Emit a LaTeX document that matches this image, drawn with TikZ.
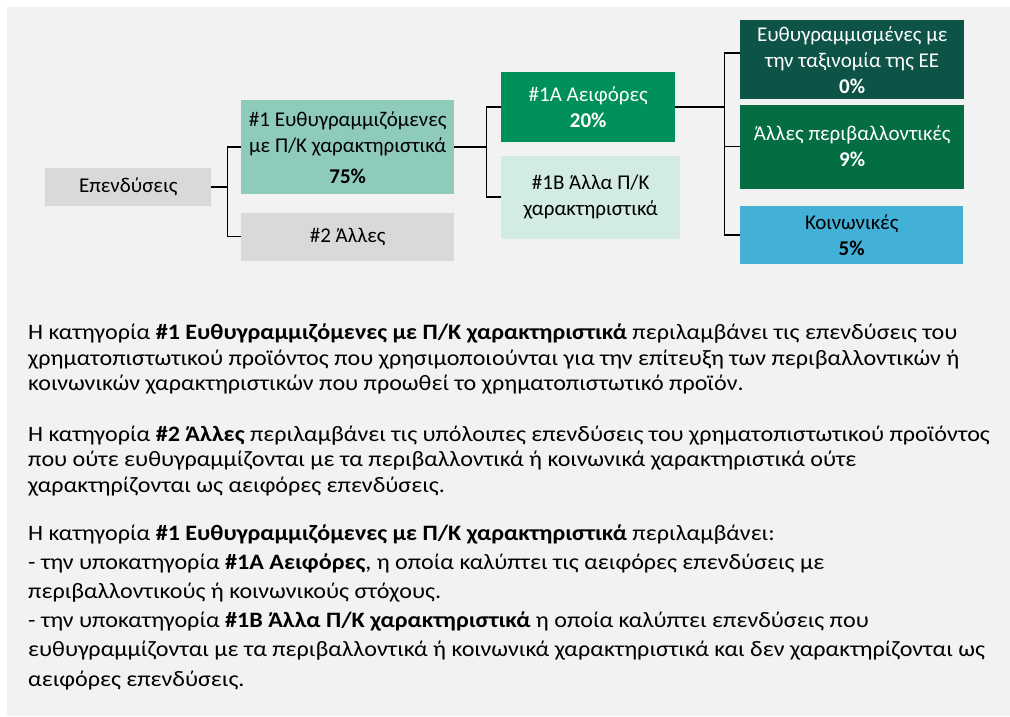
\documentclass[tikz,border=0pt]{standalone}
\usepackage{fontspec}
\setmainfont{Carlito}
\newfontfamily\parafont[FakeStretch=1.095]{Carlito}
\usetikzlibrary{positioning}

\definecolor{paper}{HTML}{F2F2F2}
\definecolor{boxgray}{HTML}{D9D9D9}
\definecolor{tealpale}{HTML}{8FCBBA}
\definecolor{sustgreen}{HTML}{00915A}
\definecolor{mintpale}{HTML}{D2EBE3}
\definecolor{taxteal}{HTML}{0E5347}
\definecolor{envgreen}{HTML}{046D42}
\definecolor{socblue}{HTML}{43B0D8}

\begin{document}
\begin{tikzpicture}[x=1pt, y=-1pt, font=\fontsize{21}{26}\selectfont,
  box/.style={inner sep=0pt, align=center, anchor=north west, text=black},
  greybox/.style={box, fill=boxgray},
  darkbox/.style={box, text=white, minimum width=224pt},
  link/.style={draw=black, line width=1.6pt},
  para/.style={inner sep=0pt, align=left, anchor=base west, font=\parafont\fontsize{22}{25.5}\selectfont}]
\useasboundingbox (0,0) rectangle (1010,716);
\fill[paper] (7,7) rectangle (1010,716);

% tree of categories
\node[greybox, minimum width=166pt, minimum height=38pt] (inv) at (45,168) {Επενδύσεις};
\node[box, fill=tealpale, minimum width=213pt, minimum height=94pt] (one) at (241,100)
   {\#1 Ευθυγραμμιζόμενες\\με Π/Κ χαρακτηριστικά\\[5pt]\textbf{75\%}};
\node[greybox, minimum width=213pt, minimum height=48pt, below=18pt of one] (two) {\#2 Άλλες};
\node[box, fill=sustgreen, text=white, minimum width=174pt, minimum height=70pt] (onea) at (501,72)
   {\#1A Αειφόρες\\\textbf{20\%}};
\node[box, fill=mintpale, minimum width=179pt, minimum height=83pt,
   below=13pt of onea.south west, anchor=north west] (oneb) {\#1B Άλλα Π/Κ\\χαρακτηριστικά};
\node[darkbox, fill=taxteal, minimum height=79pt] (tax) at (740,20)
   {Ευθυγραμμισμένες με\\την ταξινομία της ΕΕ\\\textbf{0\%}};
\node[darkbox, fill=envgreen, minimum height=84pt, below=5pt of tax] (env)
   {Άλλες περιβαλλοντικές\\\textbf{9\%}};
\node[box, fill=socblue, minimum width=223pt, minimum height=58pt,
   below=17pt of env.south west, anchor=north west] (soc) {Κοινωνικές\\\textbf{5\%}};

% forks
\path (inv.east) ++(16,0) coordinate (fork1);
\path (one.east) ++(32,0) coordinate (fork2);
\path (onea.east) ++(49,0) coordinate (fork3);
\draw[link] (inv.east) -- (fork1);
\draw[link] (one.west) -| (fork1) |- (two.west);
\draw[link] (one.east) -- (fork2);
\draw[link] (onea.west) -| (fork2) |- (oneb.west);
\draw[link] (onea.east) -- (fork3);
\draw[link] ([yshift=6.6pt]tax.west) -| (fork3) |- (soc.west);
\draw[link] (env.west) -- (env.west -| fork3);

% explanation (base = last line)
\node[para] (par1) at (28,390.5)
   {Η κατηγορία \textbf{\#1 Ευθυγραμμιζόμενες με Π/Κ χαρακτηριστικά} περιλαμβάνει τις επενδύσεις του\\
    χρηματοπιστωτικού προϊόντος που χρησιμοποιούνται για την επίτευξη των περιβαλλοντικών ή\\
    κοινωνικών χαρακτηριστικών που προωθεί το χρηματοπιστωτικό προϊόν.};
\node[para] (par2) at (28,492)
   {Η κατηγορία \textbf{\#2 Άλλες} περιλαμβάνει τις υπόλοιπες επενδύσεις του χρηματοπιστωτικού προϊόντος\\
    που ούτε ευθυγραμμίζονται με τα περιβαλλοντικά ή κοινωνικά χαρακτηριστικά ούτε\\
    χαρακτηρίζονται ως αειφόρες επενδύσεις.};
\node[para, font=\parafont\fontsize{22}{29.2}\selectfont] (par3) at (28,686)
   {Η κατηγορία \textbf{\#1 Ευθυγραμμιζόμενες με Π/Κ χαρακτηριστικά} περιλαμβάνει:\\
    - την υποκατηγορία \textbf{\#1A Αειφόρες}, η οποία καλύπτει τις αειφόρες επενδύσεις με\\
    περιβαλλοντικούς ή κοινωνικούς στόχους.\\
    - την υποκατηγορία \textbf{\#1B Άλλα Π/Κ χαρακτηριστικά} η οποία καλύπτει επενδύσεις που\\
    ευθυγραμμίζονται με τα περιβαλλοντικά ή κοινωνικά χαρακτηριστικά και δεν χαρακτηρίζονται ως\\
    αειφόρες επενδύσεις.};
\end{tikzpicture}
\end{document}
